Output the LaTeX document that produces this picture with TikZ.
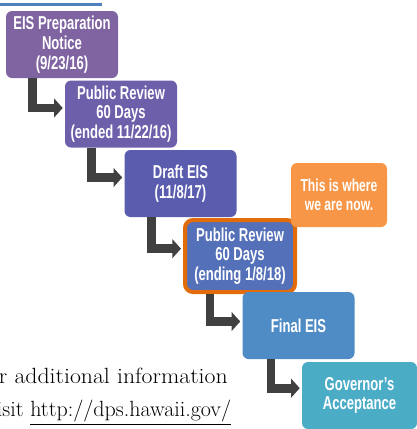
\documentclass[tikz,border=0pt]{standalone}
\usepackage{fontspec}
\usepackage{xcolor}
\usepackage{tikz}
\usetikzlibrary{arrows.meta, positioning}

\newfontfamily\boxfont[FakeStretch=0.70]{Liberation Sans}
\newfontfamily\footfont[FakeStretch=1.08]{Latin Modern Roman}

\definecolor{stageA}{HTML}{8064A2}
\definecolor{stageB}{HTML}{6E5FAA}
\definecolor{stageC}{HTML}{5A5DAE}
\definecolor{stageD}{HTML}{5470B8}
\definecolor{stageE}{HTML}{4F8CC5}
\definecolor{stageF}{HTML}{4BACC6}
\definecolor{nowfill}{HTML}{F79646}
\definecolor{nowline}{HTML}{E36C0A}
\definecolor{arrowgray}{HTML}{404040}
\definecolor{rulecolor}{HTML}{4F81BD}

\begin{document}
\begin{tikzpicture}[x=0.75pt, y=-0.75pt, % pixel grid of the slide
          stage/.style={rectangle, rounded corners=4.5pt, text=white, align=center,
            inner sep=2pt, minimum width=84pt, minimum height=50.25pt,
            font=\boxfont\bfseries\fontsize{14}{14.8}\selectfont},
          current/.style={stage, draw=nowline, line width=3pt, rounded corners=6pt,
            minimum width=82.5pt, minimum height=54pt},
          callout/.style={stage, minimum width=72pt, minimum height=48pt,
            font=\boxfont\bfseries\fontsize{13}{14.5}\selectfont},
          elbow/.style={draw=arrowgray, line width=6.5pt, line join=miter,
            -{Triangle[length=6.5pt, width=14pt]}, shorten >=1.5pt},
          foot/.style={inner sep=0pt, font=\footfont\fontsize{16.5}{19}\selectfont}
        ]
        \useasboundingbox (0,0) rectangle (417,429);
        \clip (0,0) rectangle (417,429);

        % rule at the top of the slide
        \draw[rulecolor, line width=1.9pt] (0,4.5) -- (102,4.5);

        % Stages
        \node[stage, fill=stageA] (prep) at (62,44.5) {EIS Preparation\\Notice\\(9/23/16)};
        \node[stage, fill=stageB] (review1) at (121,114) {Public Review\\60 Days\\(ended 11/22/16)};
        \node[stage, fill=stageC] (draft) at (180.5,183.5) {Draft EIS\\(11/8/17)};
        \node[current, fill=stageD] (review2) at (240,256) {Public Review\\60 Days\\(ending 1/8/18)};
        \node[stage, fill=stageE] (final) at (298.5,325.5) {Final EIS};
        \node[stage, fill=stageF, minimum width=86.25pt] (accept) at (359.5,395.5) {Governor’s\\Acceptance};

        \node[callout, fill=nowfill] (now) at (339,195) {This is where\\we are now.};

        % Elbow arrows
        \draw[elbow] ([xshift=20.25pt]prep.south west) |- ([yshift=4.5pt]review1.west);
        \draw[elbow] ([xshift=20.25pt]review1.south west) |- ([yshift=4.5pt]draft.west);
        \draw[elbow] ([xshift=20.25pt]draft.south west) |- ([yshift=5.5pt]review2.west);
        \draw[elbow] ([xshift=20.25pt]review2.south west) |- ([yshift=3pt]final.west);
        \draw[elbow] ([xshift=21.5pt]final.south west) |- ([yshift=5.5pt]accept.west);

        % Footer text
        \node[foot, anchor=base east] (more) at (228,383) {For additional information};
        \node[foot, anchor=base east, font=\rmfamily\fontsize{16.5}{19}\selectfont] (visit)
          at (231.5,416.5) {visit \underline{http://dps.hawaii.gov/}};
\end{tikzpicture}
\end{document}
